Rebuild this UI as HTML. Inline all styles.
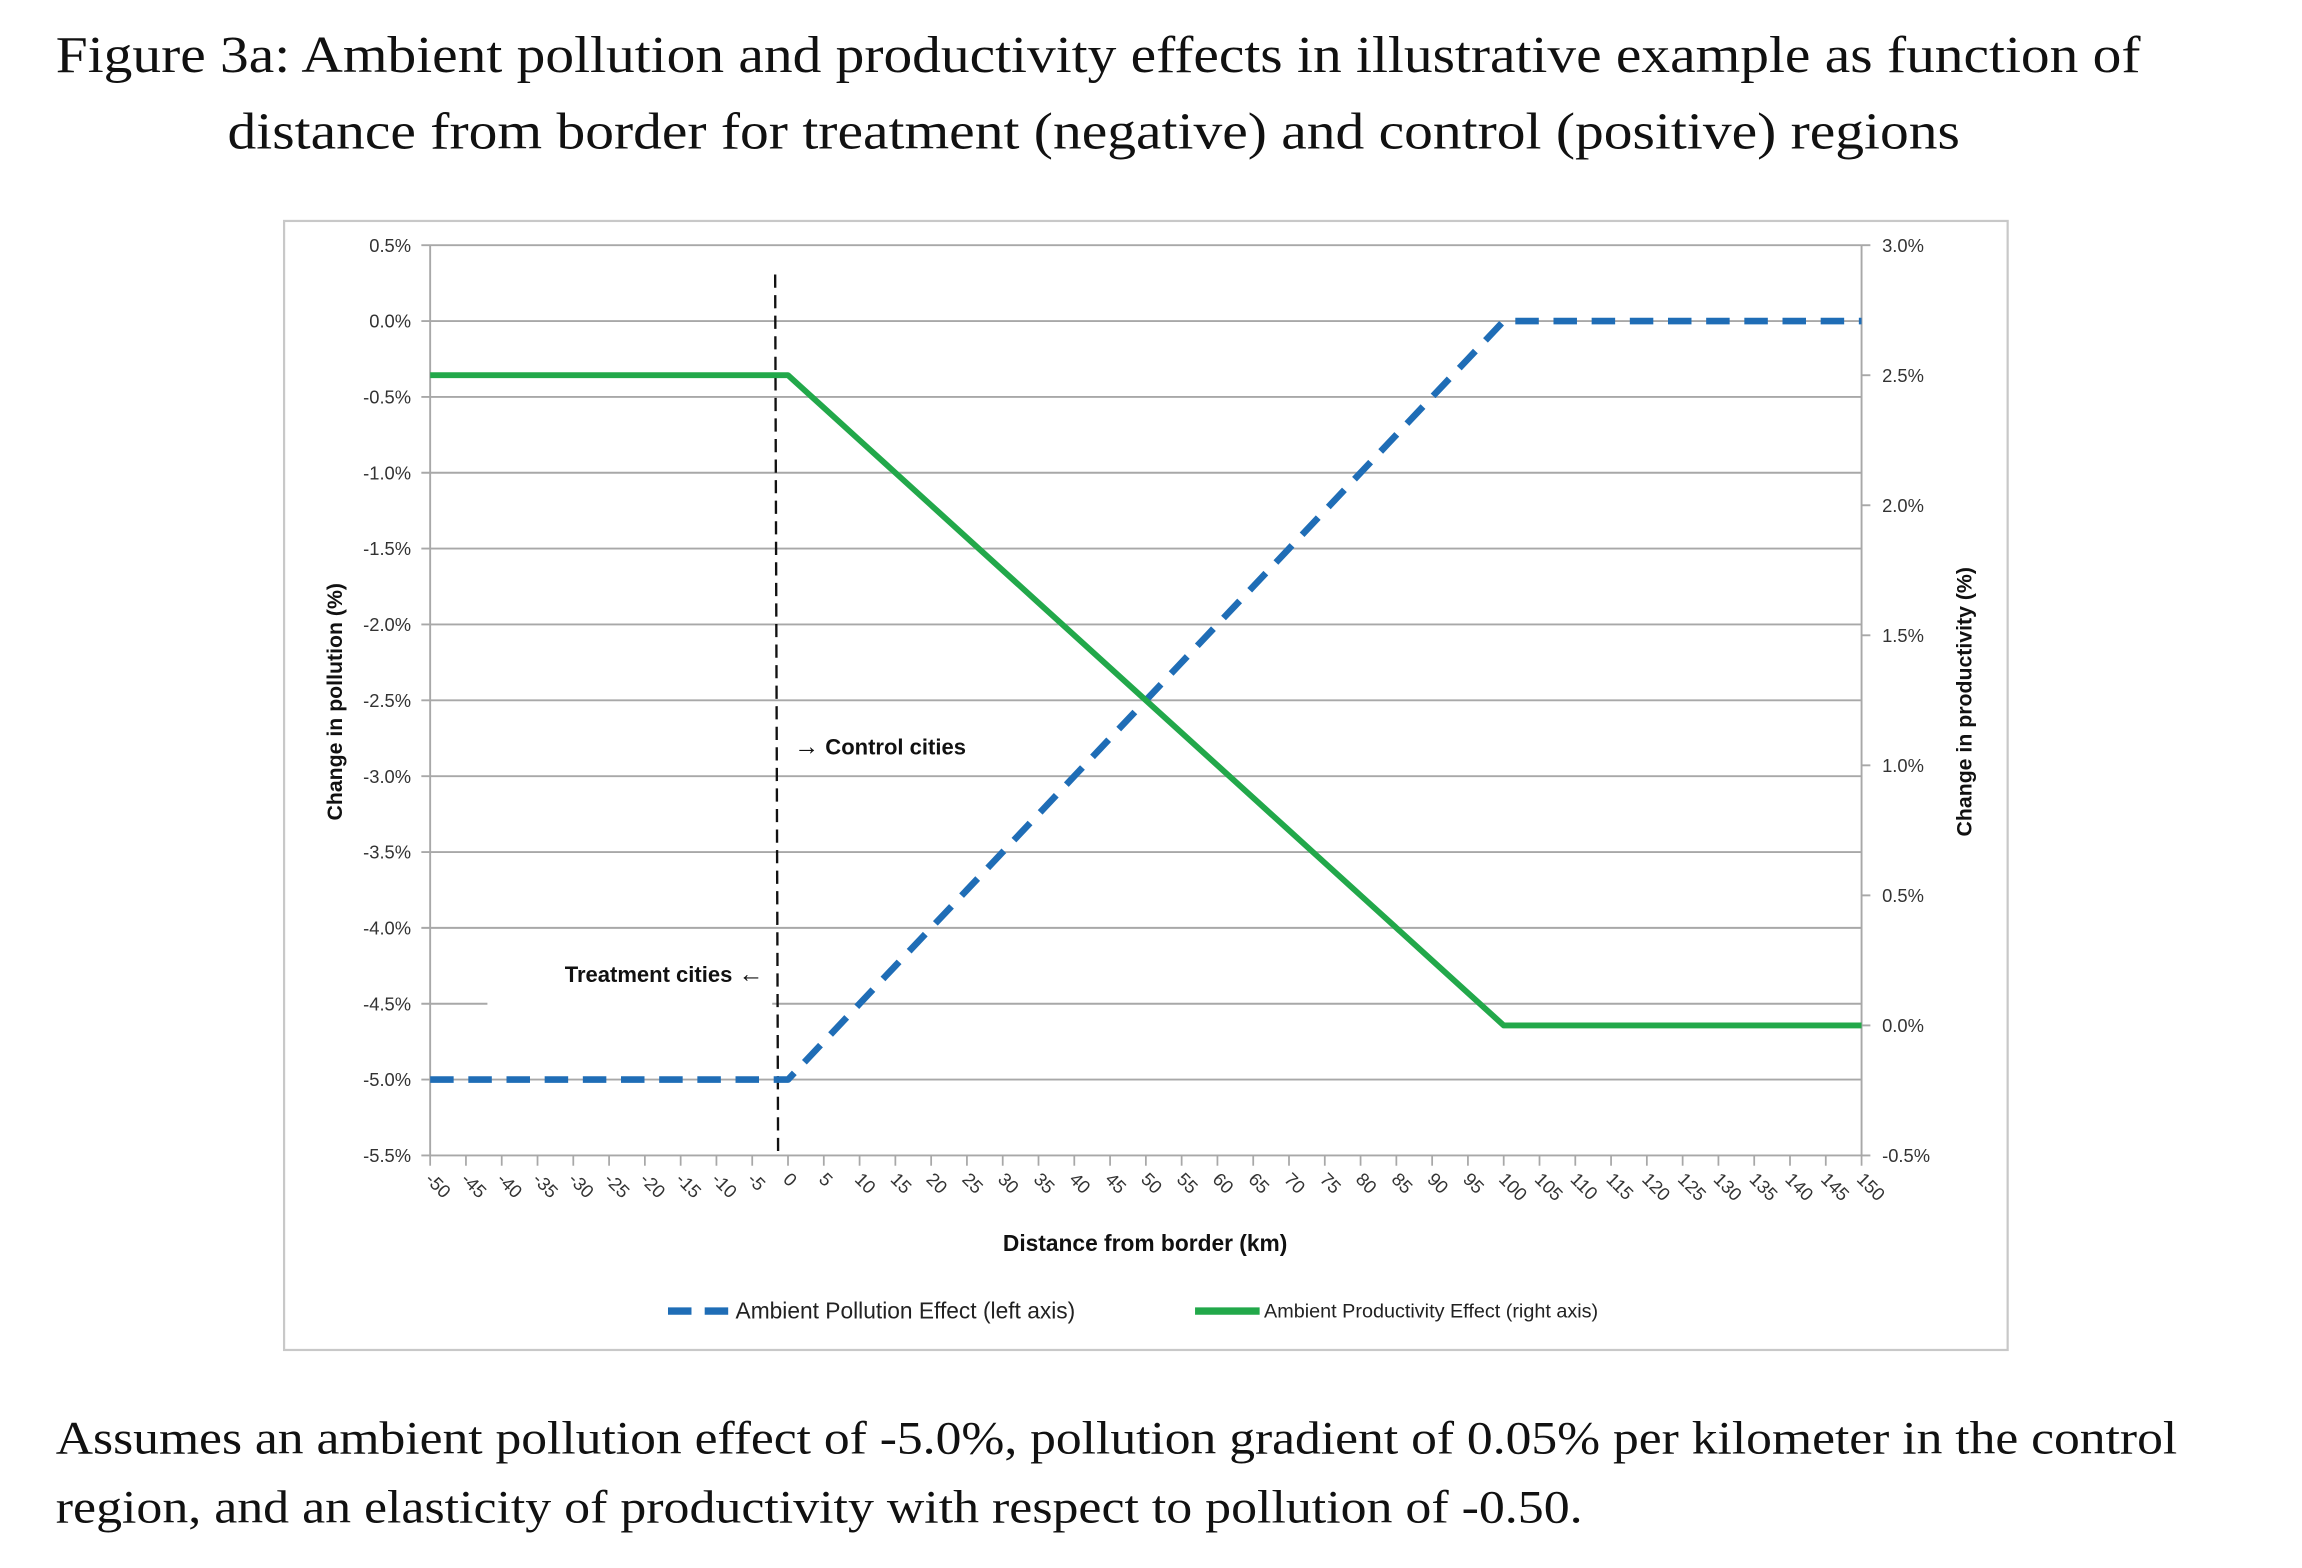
<!DOCTYPE html>
<html><head><meta charset="utf-8"><style>
html,body{margin:0;padding:0;background:#fff;}
svg{display:block;}
</style></head><body>
<svg id="fig" width="2302" height="1568" viewBox="0 0 1568 1068" preserveAspectRatio="none" xmlns="http://www.w3.org/2000/svg">
<g font-family="Liberation Serif, serif" font-size="35" fill="#111">
<text x="38" y="49" textLength="1420" lengthAdjust="spacingAndGlyphs">Figure 3a: Ambient pollution and productivity effects in illustrative example as function of</text>
<text x="155" y="101" textLength="1180" lengthAdjust="spacingAndGlyphs">distance from border for treatment (negative) and control (positive) regions</text>
</g>
<rect x="193.5" y="150.5" width="1174" height="769" fill="#fff" stroke="#c8c8c8" stroke-width="1.5"/>
<g id="grid"></g>
<g id="axes"></g>
<rect x="332" y="676" width="194" height="14" fill="#fff"/>
<line x1="528" y1="187" x2="530" y2="787" stroke="#111" stroke-width="1.6" stroke-dasharray="9,5"/>
<g id="series"></g>
<g font-family="Liberation Sans, sans-serif" font-weight="bold" font-size="15" fill="#111">
<text x="541" y="514"><tspan font-size="17">→</tspan> Control cities</text>
<text x="520" y="669" text-anchor="end">Treatment cities <tspan font-size="17">←</tspan></text>
<text x="780" y="852" text-anchor="middle" font-size="15.5">Distance from border (km)</text>
<text transform="translate(233,478) rotate(-90)" text-anchor="middle" font-size="14.5">Change in pollution (%)</text>
<text transform="translate(1343,478) rotate(-90)" text-anchor="middle" font-size="14.5">Change in productivity (%)</text>
</g>
<g font-family="Liberation Sans, sans-serif" fill="#222">
<line x1="455" y1="893" x2="498" y2="893" stroke="#1f6db6" stroke-width="5" stroke-dasharray="16,9"/>
<text x="501" y="898" font-size="15.5">Ambient Pollution Effect (left axis)</text>
<line x1="814" y1="893" x2="858" y2="893" stroke="#22a84a" stroke-width="5"/>
<text x="861" y="897.5" font-size="13.5">Ambient Productivity Effect (right axis)</text>
</g>
<g font-family="Liberation Serif, serif" font-size="32" fill="#111">
<text x="38" y="990" textLength="1445" lengthAdjust="spacingAndGlyphs">Assumes an ambient pollution effect of -5.0%, pollution gradient of 0.05% per kilometer in the control</text>
<text x="38" y="1037" textLength="1040" lengthAdjust="spacingAndGlyphs">region, and an elasticity of productivity with respect to pollution of -0.50.</text>
</g>
</svg>
<script>
const distances = [-50,-45,-40,-35,-30,-25,-20,-15,-10,-5,0,5,10,15,20,25,30,35,40,45,50,55,60,65,70,75,80,85,90,95,100,105,110,115,120,125,130,135,140,145,150];
const pollution = [-5,-5,-5,-5,-5,-5,-5,-5,-5,-5,-5,-4.75,-4.5,-4.25,-4,-3.75,-3.5,-3.25,-3,-2.75,-2.5,-2.25,-2,-1.75,-1.5,-1.25,-1,-0.75,-0.5,-0.25,0,0,0,0,0,0,0,0,0,0,0];
const productivity = [2.5,2.5,2.5,2.5,2.5,2.5,2.5,2.5,2.5,2.5,2.5,2.375,2.25,2.125,2,1.875,1.75,1.625,1.5,1.375,1.25,1.125,1,0.875,0.75,0.625,0.5,0.375,0.25,0.125,0,0,0,0,0,0,0,0,0,0,0];
const leftTicks = [0.5,0,-0.5,-1,-1.5,-2,-2.5,-3,-3.5,-4,-4.5,-5,-5.5];
const rightTicks = [3,2.5,2,1.5,1,0.5,0,-0.5];

const NS='http://www.w3.org/2000/svg';
const X0=293, X1=1268, Y0=167, Y1=787;
function xPos(i){return X0+(X1-X0)*i/(distances.length-1);}
function yLeft(v){return Y0+(0.5-v)/6*(Y1-Y0);}
function yRight(v){return Y0+(3-v)/3.5*(Y1-Y0);}
function mk(tag,attrs,parent){const e=document.createElementNS(NS,tag);for(const k in attrs)e.setAttribute(k,attrs[k]);parent.appendChild(e);return e;}
const grid=document.getElementById('grid'), axes=document.getElementById('axes'), series=document.getElementById('series');
const fmt=v=>v.toFixed(1)+'%';
leftTicks.forEach(v=>{
  const y=yLeft(v);
  const l=mk('line',{x1:X0-6,y1:y,x2:X1,y2:y,stroke:'#a8a8a8','stroke-width':1.3},grid);
  
  
  const t=mk('text',{x:280,y:y+4.5,'text-anchor':'end','font-family':'Liberation Sans, sans-serif','font-size':12.5,fill:'#333'},axes);
  t.textContent=fmt(v);
  
  
});
rightTicks.forEach(v=>{
  const y=yRight(v);
  const l=mk('line',{x1:X1,y1:y,x2:X1+6,y2:y,stroke:'#a8a8a8','stroke-width':1.3},axes);
  
  
  const t=mk('text',{x:1282,y:y+4.5,'font-family':'Liberation Sans, sans-serif','font-size':12.5,fill:'#333'},axes);
  t.textContent=fmt(v);
  
  
});
const la=mk('line',{x1:X0,y1:Y0,x2:X0,y2:Y1,stroke:'#a8a8a8','stroke-width':1.3},axes);


const ra=mk('line',{x1:X1,y1:Y0,x2:X1,y2:Y1,stroke:'#a8a8a8','stroke-width':1.3},axes);


distances.forEach((d,i)=>{
  const x=xPos(i);
  const tk=mk('line',{x1:x,y1:Y1,x2:x,y2:Y1+7,stroke:'#a8a8a8','stroke-width':1.2},axes);
  
  
  const t=mk('text',{transform:`translate(${x-4},${Y1+17}) rotate(45)`,'font-family':'Liberation Sans, sans-serif','font-size':12.5,fill:'#333'},axes);
  t.textContent=d;
  
  
});
const pp=pollution.map((v,i)=>xPos(i)+','+yLeft(v)).join(' ');
const pl=mk('polyline',{points:pp,fill:'none',stroke:'#1f6db6','stroke-width':4.5,'stroke-dasharray':'16,10','stroke-linejoin':'round'},series);


const qp=productivity.map((v,i)=>xPos(i)+','+yRight(v)).join(' ');
const ql=mk('polyline',{points:qp,fill:'none',stroke:'#22a84a','stroke-width':4,'stroke-linejoin':'round'},series);


</script>
</body></html>
